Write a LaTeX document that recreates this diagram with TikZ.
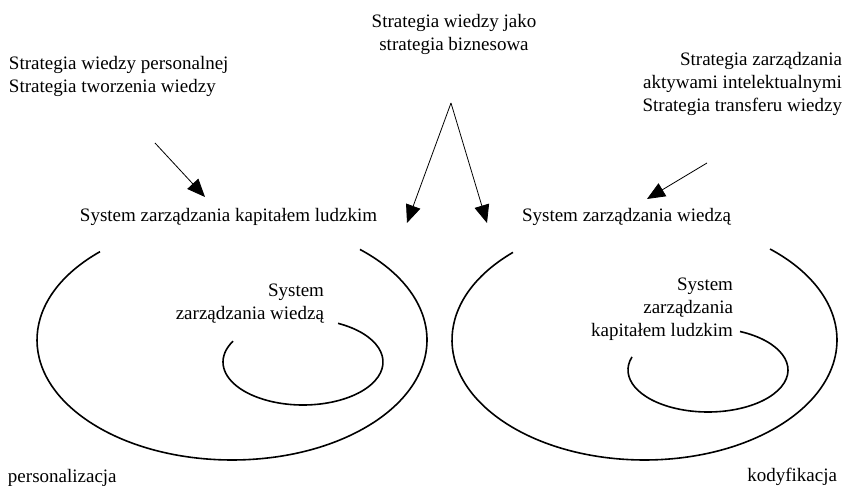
\documentclass[tikz,border=0pt]{standalone}
\usepackage{fontspec}
\setmainfont{Liberation Serif}
\usetikzlibrary{arrows.meta}
\begin{document}
\begin{tikzpicture}[x=1pt,y=-1pt,
  lbl/.style={inner sep=0pt,outer sep=0pt,font=\fontsize{19}{23}\selectfont},
  arr/.style={line width=0.8pt,-{Triangle[length=18pt,width=15pt]}},
  loop/.style={line width=1.6pt}]
\useasboundingbox (0,0) rectangle (847,486);
% texts
\node[lbl,anchor=north west,align=left] (sl) at (9,56.5) {Strategia wiedzy personalnej\\Strategia tworzenia wiedzy};
\node[lbl,anchor=north,align=center] (st) at (454,14.5) {Strategia wiedzy jako\\strategia biznesowa};
\node[lbl,anchor=north east,align=right] (sr) at (842,52.5) {Strategia zarządzania\\aktywami intelektualnymi\\Strategia transferu wiedzy};
\node[lbl,anchor=base] (szkl) at (228.5,222) {System zarządzania kapitałem ludzkim};
\node[lbl,anchor=base] (szw) at (626.5,222) {System zarządzania wiedzą};
\node[lbl,anchor=north east,align=right] (inl) at (324,283.5) {System\\zarządzania wiedzą};
\node[lbl,anchor=north east,align=right] (inr) at (733,277.5) {System\\zarządzania\\kapitałem ludzkim};
\node[lbl,anchor=base west] (pers) at (8,483) {personalizacja};
\node[lbl,anchor=base east] (kod) at (837,482) {kodyfikacja};
% arrow end points
\coordinate (a1s) at (155,143);
\coordinate (a1t) at (205,197);
\coordinate (apex) at (451,103);
\coordinate (vlt) at (407,223);
\coordinate (vrt) at (487,223);
\coordinate (a3s) at (707,163);
\coordinate (a3t) at (647,199);
\draw[arr] (a1s) -- (a1t);
\draw[arr] (apex) -- (vlt);
\draw[arr] (apex) -- (vrt);
\draw[arr] (a3s) -- (a3t);
% open ellipses
\coordinate (cl) at (232,340);
\coordinate (cr) at (644.5,340);
\coordinate (il) at (303,362);
\coordinate (ir) at (708,370);
\draw[loop] ([shift={(227.4:195 and 120)}]cl) arc[start angle=227.4,end angle=-49,x radius=195,y radius=120];
\draw[loop] ([shift={(226.9:192.5 and 120)}]cr) arc[start angle=226.9,end angle=-49.3,x radius=192.5,y radius=120];
\draw[loop] ([shift={(-64:80 and 43)}]il) arc[start angle=-64,end angle=209,x radius=80,y radius=43];
\draw[loop] ([shift={(-66.4:80 and 42)}]ir) arc[start angle=-66.4,end angle=198.2,x radius=80,y radius=42];
\end{tikzpicture}
\end{document}
